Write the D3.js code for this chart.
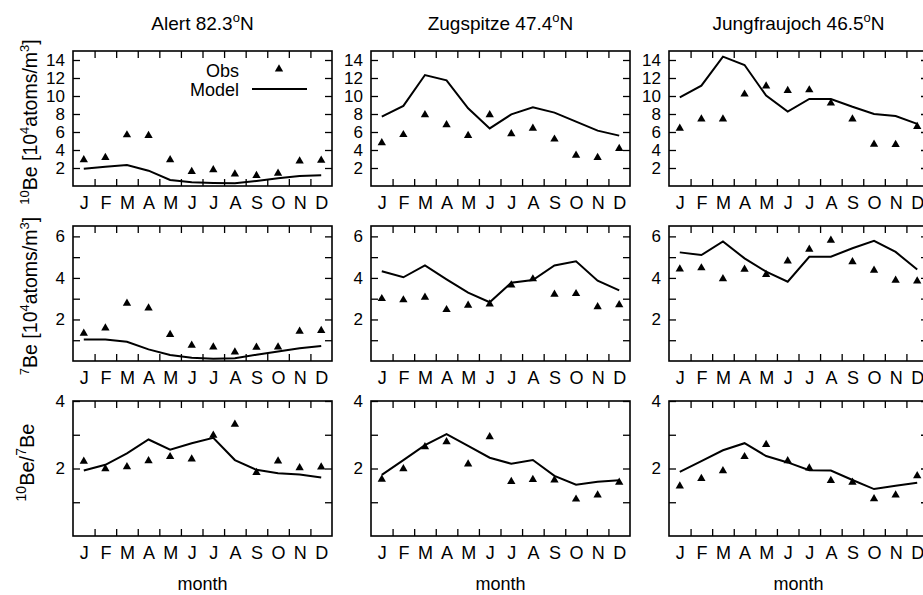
<!DOCTYPE html>
<html>
<head>
<meta charset="utf-8">
<script src="https://cdn.jsdelivr.net/npm/d3@7"></script>
<style>
  body { margin: 0; background: #fff; }
  svg { display: block; font-family: "Liberation Sans", Arial, Helvetica, sans-serif; }
  .tick text { font-size: 18px; fill: #000; }
  .ylab .tick text { font-size: 17px; }
  .tick line { stroke: #000; stroke-width: 1.3; }
</style>
</head>
<body>
<div id="chart"></div>
<script>
// monthly climatologies
var months = ["J", "F", "M", "A", "M", "J", "J", "A", "S", "O", "N", "D"];

var stations = [
	{ name: "Alert", lat: "82.3" },
	{ name: "Zugspitze", lat: "47.4" },
	{ name: "Jungfraujoch", lat: "46.5" }
];

// 10Be [1e4 atoms/m3]
var alertBe10Obs   = [2.9, 3.15, 5.67, 5.6, 2.9, 1.6, 1.8, 1.33, 1.15, 1.4, 2.78, 2.85];
var alertBe10Model = [1.93, 2.15, 2.33, 1.7, 0.67, 0.41, 0.33, 0.3, 0.56, 0.85, 1.1, 1.19];
var zugBe10Obs     = [4.8, 5.7, 7.9, 6.8, 5.6, 7.9, 5.8, 6.4, 5.2, 3.4, 3.15, 4.15];
var zugBe10Model   = [7.7, 8.9, 12.33, 11.74, 8.63, 6.4, 7.96, 8.74, 8.15, 7.15, 6.15, 5.6];
var jfjBe10Obs     = [6.4, 7.44, 7.44, 10.2, 11.1, 10.6, 10.67, 9.2, 7.44, 4.63, 4.6, 6.6];
var jfjBe10Model   = [9.85, 11.15, 14.37, 13.44, 10.04, 8.26, 9.67, 9.67, 8.8, 8.0, 7.78, 6.9];

// 7Be [1e4 atoms/m3]
var alertBe7Obs    = [1.33, 1.59, 2.78, 2.55, 1.27, 0.75, 0.67, 0.43, 0.66, 0.67, 1.43, 1.46];
var alertBe7Model  = [1.03, 1.03, 0.93, 0.56, 0.29, 0.16, 0.11, 0.13, 0.3, 0.46, 0.61, 0.72];
var zugBe7Obs      = [3.0, 2.94, 3.07, 2.47, 2.68, 2.74, 3.66, 3.95, 3.21, 3.24, 2.61, 2.7];
var zugBe7Model    = [4.32, 4.03, 4.6, 3.93, 3.29, 2.83, 3.77, 3.9, 4.6, 4.8, 3.87, 3.4];
var jfjBe7Obs      = [4.43, 4.48, 3.96, 4.41, 4.16, 4.81, 5.38, 5.81, 4.78, 4.37, 3.88, 3.85];
var jfjBe7Model    = [5.23, 5.1, 5.76, 4.94, 4.3, 3.82, 5.02, 5.02, 5.43, 5.79, 5.25, 4.41];

// 10Be/7Be ratio
var alertRatioObs   = [2.21, 1.99, 2.05, 2.23, 2.35, 2.28, 2.98, 3.31, 1.88, 2.22, 2.02, 2.04];
var alertRatioModel = [1.94, 2.11, 2.45, 2.86, 2.56, 2.75, 2.91, 2.25, 1.96, 1.86, 1.82, 1.73];
var zugRatioObs     = [1.68, 1.99, 2.64, 2.79, 2.13, 2.94, 1.61, 1.67, 1.66, 1.09, 1.21, 1.59];
var zugRatioModel   = [1.81, 2.25, 2.69, 3.02, 2.67, 2.32, 2.14, 2.25, 1.78, 1.52, 1.61, 1.65];
var jfjRatioObs     = [1.48, 1.7, 1.93, 2.35, 2.71, 2.23, 2.01, 1.64, 1.59, 1.1, 1.21, 1.78];
var jfjRatioModel   = [1.9, 2.22, 2.54, 2.75, 2.37, 2.18, 1.95, 1.94, 1.66, 1.39, 1.49, 1.58];

var rows = [
	{ domain: [0, 15], ticks: d3.range(2, 15, 2), labels: d3.range(2, 15, 2),
	  obs: [alertBe10Obs, zugBe10Obs, jfjBe10Obs], model: [alertBe10Model, zugBe10Model, jfjBe10Model] },
	{ domain: [0, 6.5], ticks: d3.range(1, 7), labels: [2, 4, 6],
	  obs: [alertBe7Obs, zugBe7Obs, jfjBe7Obs], model: [alertBe7Model, zugBe7Model, jfjBe7Model] },
	{ domain: [0, 4], ticks: [1, 2, 3, 4], labels: [2, 4],
	  obs: [alertRatioObs, zugRatioObs, jfjRatioObs], model: [alertRatioModel, zugRatioModel, jfjRatioModel] }
];

var W = 923, H = 595;
var colX = [73, 371, 669], rowY = [51, 226, 401];
var pw = 259, ph = 135, tickLen = 7;

var svg = d3.select("#chart").append("svg").attr("width", W).attr("height", H);

var x = d3.scaleLinear().domain([0.5, 12.5]).range([0, pw]);
var monthIdx = d3.range(1, 13);
var bounds = d3.range(1.5, 12, 1);

var line = d3.line().x(function(d, i) { return x(i + 1); });
var tri = d3.symbol().type(d3.symbolTriangle).size(30);

rows.forEach(function(row, r) {
	var y = d3.scaleLinear().domain(row.domain).range([ph, 0]);
	line.y(function(d) { return y(d); });

	stations.forEach(function(st, c) {
		var g = svg.append("g").attr("transform", "translate(" + colX[c] + "," + rowY[r] + ")");

		// inward ticks on all four sides
		g.append("g").attr("transform", "translate(0," + ph + ")")
			.call(d3.axisBottom(x).tickValues(bounds).tickSize(-tickLen).tickFormat(""));
		g.append("g")
			.call(d3.axisTop(x).tickValues(bounds).tickSize(-tickLen).tickFormat(""));
		g.append("g").attr("class", "ylab")
			.call(d3.axisLeft(y).tickValues(row.ticks).tickSize(-tickLen).tickPadding(tickLen + 1)
				.tickFormat(function(v) { return row.labels.indexOf(v) >= 0 ? v : ""; }));
		g.append("g").attr("transform", "translate(" + pw + ",0)")
			.call(d3.axisRight(y).tickValues(row.ticks).tickSize(-tickLen).tickFormat(""));

		// month letters
		g.append("g").attr("transform", "translate(0," + ph + ")")
			.call(d3.axisBottom(x).tickValues(monthIdx).tickSize(0).tickPadding(10)
				.tickFormat(function(i) { return months[i - 1]; }))
			.selectAll("line").remove();

		g.selectAll(".domain").remove();

		g.append("rect").attr("width", pw).attr("height", ph)
			.attr("fill", "none").attr("stroke", "#000").attr("stroke-width", 1.6);

		g.append("path").datum(row.model[c])
			.attr("d", line).attr("fill", "none").attr("stroke", "#000").attr("stroke-width", 2);

		g.selectAll(".obs").data(row.obs[c]).enter().append("path")
			.attr("class", "obs")
			.attr("d", tri)
			.attr("transform", function(d, i) { return "translate(" + x(i + 1) + "," + y(d) + ")"; })
			.attr("fill", "#000");

		if (r === 0) {
			var t = svg.append("text")
				.attr("x", colX[c] + pw / 2).attr("y", 30)
				.attr("text-anchor", "middle").style("font-size", "19px");
			t.append("tspan").text(st.name + " " + st.lat);
			t.append("tspan").attr("dy", -8).style("font-size", "13px").text("o");
			t.append("tspan").attr("dy", 8).text("N");
		}
		if (r === 2) {
			svg.append("text")
				.attr("x", colX[c] + pw / 2).attr("y", 590)
				.attr("text-anchor", "middle").style("font-size", "18px")
				.text("month");
		}
	});
});

// legend inside the first panel
var leg = svg.append("g").attr("transform", "translate(" + colX[0] + "," + rowY[0] + ")");
leg.append("text").attr("x", 166).attr("y", 26).attr("text-anchor", "end").style("font-size", "18px").text("Obs");
leg.append("path").attr("d", tri).attr("transform", "translate(206,18)").attr("fill", "#000");
leg.append("text").attr("x", 166).attr("y", 45).attr("text-anchor", "end").style("font-size", "18px").text("Model");
leg.append("line").attr("x1", 179).attr("x2", 234).attr("y1", 38).attr("y2", 38)
	.attr("stroke", "#000").attr("stroke-width", 2);

// rotated y labels with superscripts
function yLabel(cx, cy, size, parts) {
	var sup = Math.round(size * 0.68), shift = Math.round(size * 0.4);
	var t = svg.append("text")
		.attr("transform", "translate(" + cx + "," + cy + ") rotate(-90)")
		.attr("text-anchor", "middle").style("font-size", size + "px");
	parts.forEach(function(p) {
		if (p[1]) {
			t.append("tspan").attr("dy", -shift).style("font-size", sup + "px").text(p[0]);
		} else {
			t.append("tspan").attr("dy", p[2] ? shift : 0).text(p[0]);
		}
	});
}
yLabel(37, 122, 19.5, [["10", true], ["Be [10", false, 1], ["4", true], ["atoms/m", false, 1], ["3", true], ["]", false, 1]]);
yLabel(37, 296, 19.5, [["7", true], ["Be [10", false, 1], ["4", true], ["atoms/m", false, 1], ["3", true], ["]", false, 1]]);
yLabel(34, rowY[2] + ph / 2 - 6, 20, [["10", true], ["Be/", false, 1], ["7", true], ["Be", false, 1]]);
</script>
</body>
</html>
